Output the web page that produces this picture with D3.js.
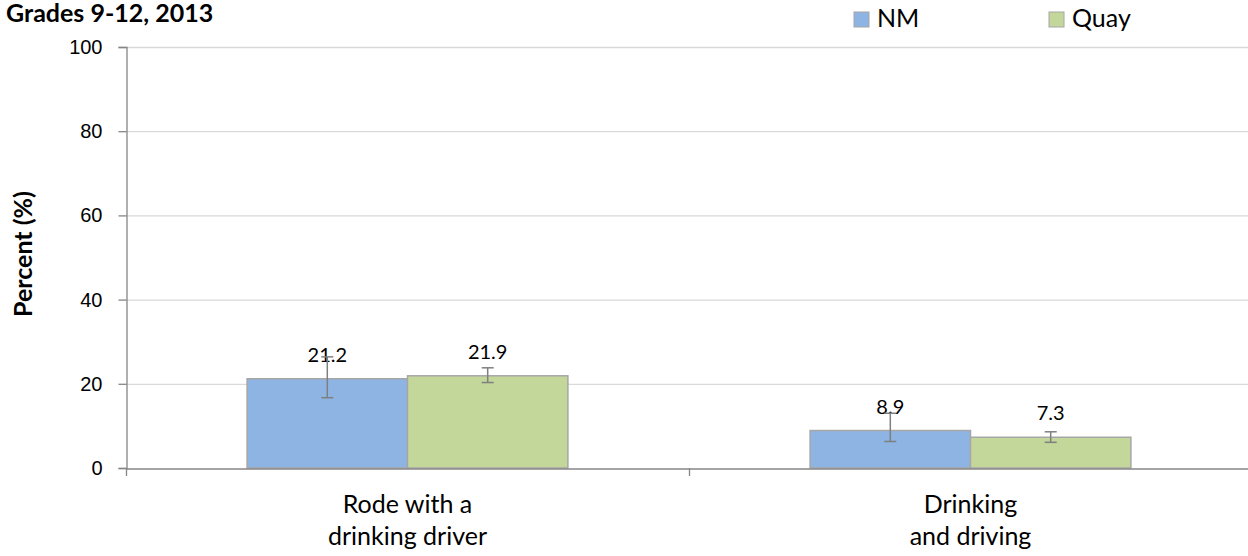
<!DOCTYPE html>
<html>
<head>
<meta charset="utf-8">
<script src="https://cdn.jsdelivr.net/npm/d3@7"></script>
<style>
  body { margin: 0; background: #fff; }
  svg { display: block; font-family: Lato, "Open Sans", sans-serif; }
</style>
</head>
<body>
<div id="chart"></div>
<script>
// data
const categories = [["Rode with a", "drinking driver"], ["Drinking", "and driving"]];
const seriesNames = ["NM", "Quay"];
const nmValues = [21.2, 8.9];
const quayValues = [21.9, 7.3];
const nmLow = [16.7, 6.3];
const nmHigh = [26.4, 13.0];
const quayLow = [20.3, 6.1];
const quayHigh = [23.8, 8.6];
const yTicks = [0, 20, 40, 60, 80, 100];

const colors = { NM: "#8eb4e3", Quay: "#c4d79b" };

const width = 1248;
const height = 556;
const margin = { top: 47, right: -4, bottom: 88, left: 126 };
const innerWidth = width - margin.left - margin.right;
const innerHeight = height - margin.top - margin.bottom;

const rows = categories.map((c, i) => ({
    cat: i,
    lines: c,
    bars: [
        { key: "NM", value: nmValues[i], low: nmLow[i], high: nmHigh[i] },
        { key: "Quay", value: quayValues[i], low: quayLow[i], high: quayHigh[i] }
    ]
}));

const svg = d3.select("#chart")
    .append("svg")
    .attr("width", width)
    .attr("height", height);

const xScale = d3.scaleBand()
    .domain(rows.map(d => d.cat))
    .range([0, innerWidth])
    .paddingInner(0)
    .paddingOuter(0);

const xInner = d3.scaleBand()
    .domain(seriesNames)
    .range([0, xScale.bandwidth()])
    .paddingOuter(0.755)
    .paddingInner(0);

const yScale = d3.scaleLinear()
    .domain([0, 100])
    .range([innerHeight, 0]);

const inner = svg.append("g")
    .attr("transform", `translate(${margin.left},${margin.top})`);

// gridlines
inner.selectAll(".grid")
    .data(yTicks.filter(t => t > 0))
    .join("line")
    .attr("class", "grid")
    .attr("x1", 0)
    .attr("x2", innerWidth)
    .attr("y1", d => yScale(d) + 0.5)
    .attr("y2", d => yScale(d) + 0.5)
    .attr("stroke", "#d9d9d9")
    .attr("stroke-width", 1.3);

// y axis
const leftAxis = d3.axisLeft(yScale)
    .tickValues(yTicks)
    .tickSize(8)
    .tickPadding(16);

const yAxisG = inner.append("g")
    .attr("transform", "translate(0.5,0)")
    .call(leftAxis);
yAxisG.select(".domain").attr("stroke", "#868686").attr("stroke-width", 1.3);
yAxisG.selectAll(".tick line").attr("stroke", "#868686").attr("stroke-width", 1.3);
yAxisG.selectAll(".tick text")
    .attr("fill", "#000")
    .style("font-size", "20px");

// bars
const groups = inner.selectAll(".cat")
    .data(rows)
    .join("g")
    .attr("class", "cat")
    .attr("transform", d => `translate(${xScale(d.cat)},0)`);

groups.selectAll("rect")
    .data(d => d.bars)
    .join("rect")
    .attr("x", d => xInner(d.key))
    .attr("y", d => yScale(d.value))
    .attr("width", xInner.bandwidth())
    .attr("height", d => innerHeight - yScale(d.value))
    .attr("fill", d => colors[d.key])
    .attr("stroke", "#a6a6a6")
    .attr("stroke-width", 1.5);

// value labels
groups.selectAll(".val")
    .data(d => d.bars)
    .join("text")
    .attr("class", "val")
    .attr("x", d => xInner(d.key) + xInner.bandwidth() / 2)
    .attr("y", d => yScale(d.value) - 17)
    .attr("text-anchor", "middle")
    .style("font-size", "20px")
    .text(d => d.value.toFixed(1));

// error bars
const errs = groups.selectAll(".err")
    .data(d => d.bars)
    .join("g")
    .attr("class", "err")
    .attr("stroke", "#7f7f7f")
    .attr("stroke-width", 1.5);

errs.append("line")
    .attr("x1", d => xInner(d.key) + xInner.bandwidth() / 2)
    .attr("x2", d => xInner(d.key) + xInner.bandwidth() / 2)
    .attr("y1", d => yScale(d.low))
    .attr("y2", d => yScale(d.high));

["low", "high"].forEach(k => {
    errs.append("line")
        .attr("x1", d => xInner(d.key) + xInner.bandwidth() / 2 - 6)
        .attr("x2", d => xInner(d.key) + xInner.bandwidth() / 2 + 6)
        .attr("y1", d => yScale(d[k]))
        .attr("y2", d => yScale(d[k]));
});

// x axis baseline and ticks
const bottomAxis = d3.axisBottom(xScale).tickSize(0).tickFormat("");
const xAxisG = inner.append("g")
    .attr("transform", `translate(0,${innerHeight + 0.5})`)
    .call(bottomAxis);
xAxisG.select(".domain").attr("stroke", "#868686").attr("stroke-width", 1.3);

inner.selectAll(".cat-tick")
    .data([0, 1])
    .join("line")
    .attr("class", "cat-tick")
    .attr("x1", d => xScale(d) + 0.5)
    .attr("x2", d => xScale(d) + 0.5)
    .attr("y1", innerHeight)
    .attr("y2", innerHeight + 8)
    .attr("stroke", "#868686")
    .attr("stroke-width", 1.3);

// category labels
groups.append("text")
    .attr("x", xScale.bandwidth() / 2)
    .attr("y", innerHeight + 45)
    .attr("text-anchor", "middle")
    .style("font-size", "25px")
    .selectAll("tspan")
    .data(d => d.lines)
    .join("tspan")
    .attr("x", xScale.bandwidth() / 2)
    .attr("dy", (d, i) => i === 0 ? 0 : 32)
    .text(d => d);

// y axis title
svg.append("text")
    .attr("transform", "translate(32,254) rotate(-90)")
    .attr("text-anchor", "middle")
    .style("font-size", "25px")
    .style("font-weight", "bold")
    .text("Percent (%)");

// chart title
svg.append("text")
    .attr("x", 6)
    .attr("y", 22)
    .style("font-size", "25px")
    .style("font-weight", "bold")
    .text("Grades 9-12, 2013");

// legend
const legendX = d3.scalePoint().domain(seriesNames).range([854, 1049]);
const legend = svg.selectAll(".legend")
    .data(seriesNames)
    .join("g")
    .attr("class", "legend")
    .attr("transform", d => `translate(${legendX(d)},12)`);

legend.append("rect")
    .attr("width", 15)
    .attr("height", 15)
    .attr("fill", d => colors[d])
    .attr("stroke", "#a6a6a6")
    .attr("stroke-width", 1);

legend.append("text")
    .attr("x", 23)
    .attr("y", 15)
    .style("font-size", "25px")
    .text(d => d);
</script>
</body>
</html>
